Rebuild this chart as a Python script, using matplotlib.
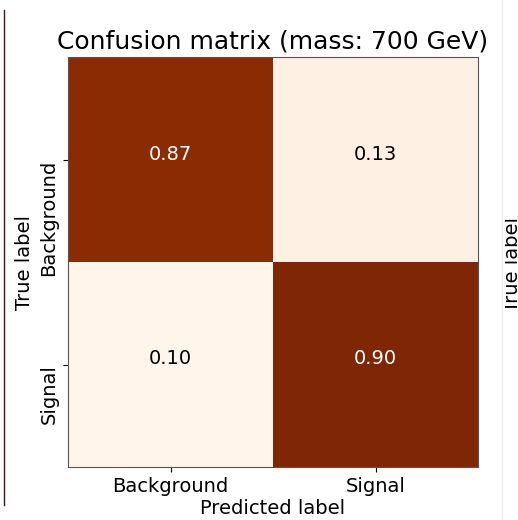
import numpy as np
import matplotlib
matplotlib.use("Agg")
import matplotlib.pyplot as plt
from matplotlib.lines import Line2D
from matplotlib.transforms import Bbox

classes = ["Background", "Signal"]
cm = np.array([[0.87, 0.13],
               [0.10, 0.90]])
title = "Confusion matrix (mass: 700 GeV)"

fig = plt.figure(figsize=(5.18, 5.20), dpi=100)
ax = fig.add_axes([68 / 518, 1 - 467 / 520, 410 / 518, 410 / 520])

ax.imshow(cm, interpolation="nearest", cmap=plt.cm.Oranges, aspect="auto")
ax.set_title(title, fontsize=18)

ticks = np.arange(len(classes))
ax.set_xticks(ticks)
ax.set_xticklabels(classes, fontsize=14)
ax.set_yticks(ticks)
ax.set_yticklabels(classes, fontsize=14, rotation=90, va="top")

thresh = cm.max() / 2.
for i in range(cm.shape[0]):
    for j in range(cm.shape[1]):
        ax.text(j, i, "%.2f" % cm[i, j], ha="center", fontsize=14,
                color="white" if cm[i, j] > thresh else "black")

ax.set_xlabel("Predicted label", fontsize=14, labelpad=2)
ax.set_ylabel("True label", fontsize=14, labelpad=4)
for s in ax.spines.values():
    s.set_color("#555555")

# screenshot edges
fig.add_artist(Line2D([4 / 518, 4 / 518], [1 - 505 / 520, 1 - 10 / 520],
                      color="#3a1a12", lw=1))
fig.add_artist(Line2D([502 / 518, 502 / 518], [0, 1], color="#eeeeee", lw=1))
t = fig.text(513 / 518, 1 - 265 / 520, "True label", rotation=90, fontsize=14,
             ha="center", va="center")
t.set_clip_box(Bbox.from_extents(505, 0, 518, 520))
t.set_clip_on(True)

fig.savefig("out.png", dpi=100)
